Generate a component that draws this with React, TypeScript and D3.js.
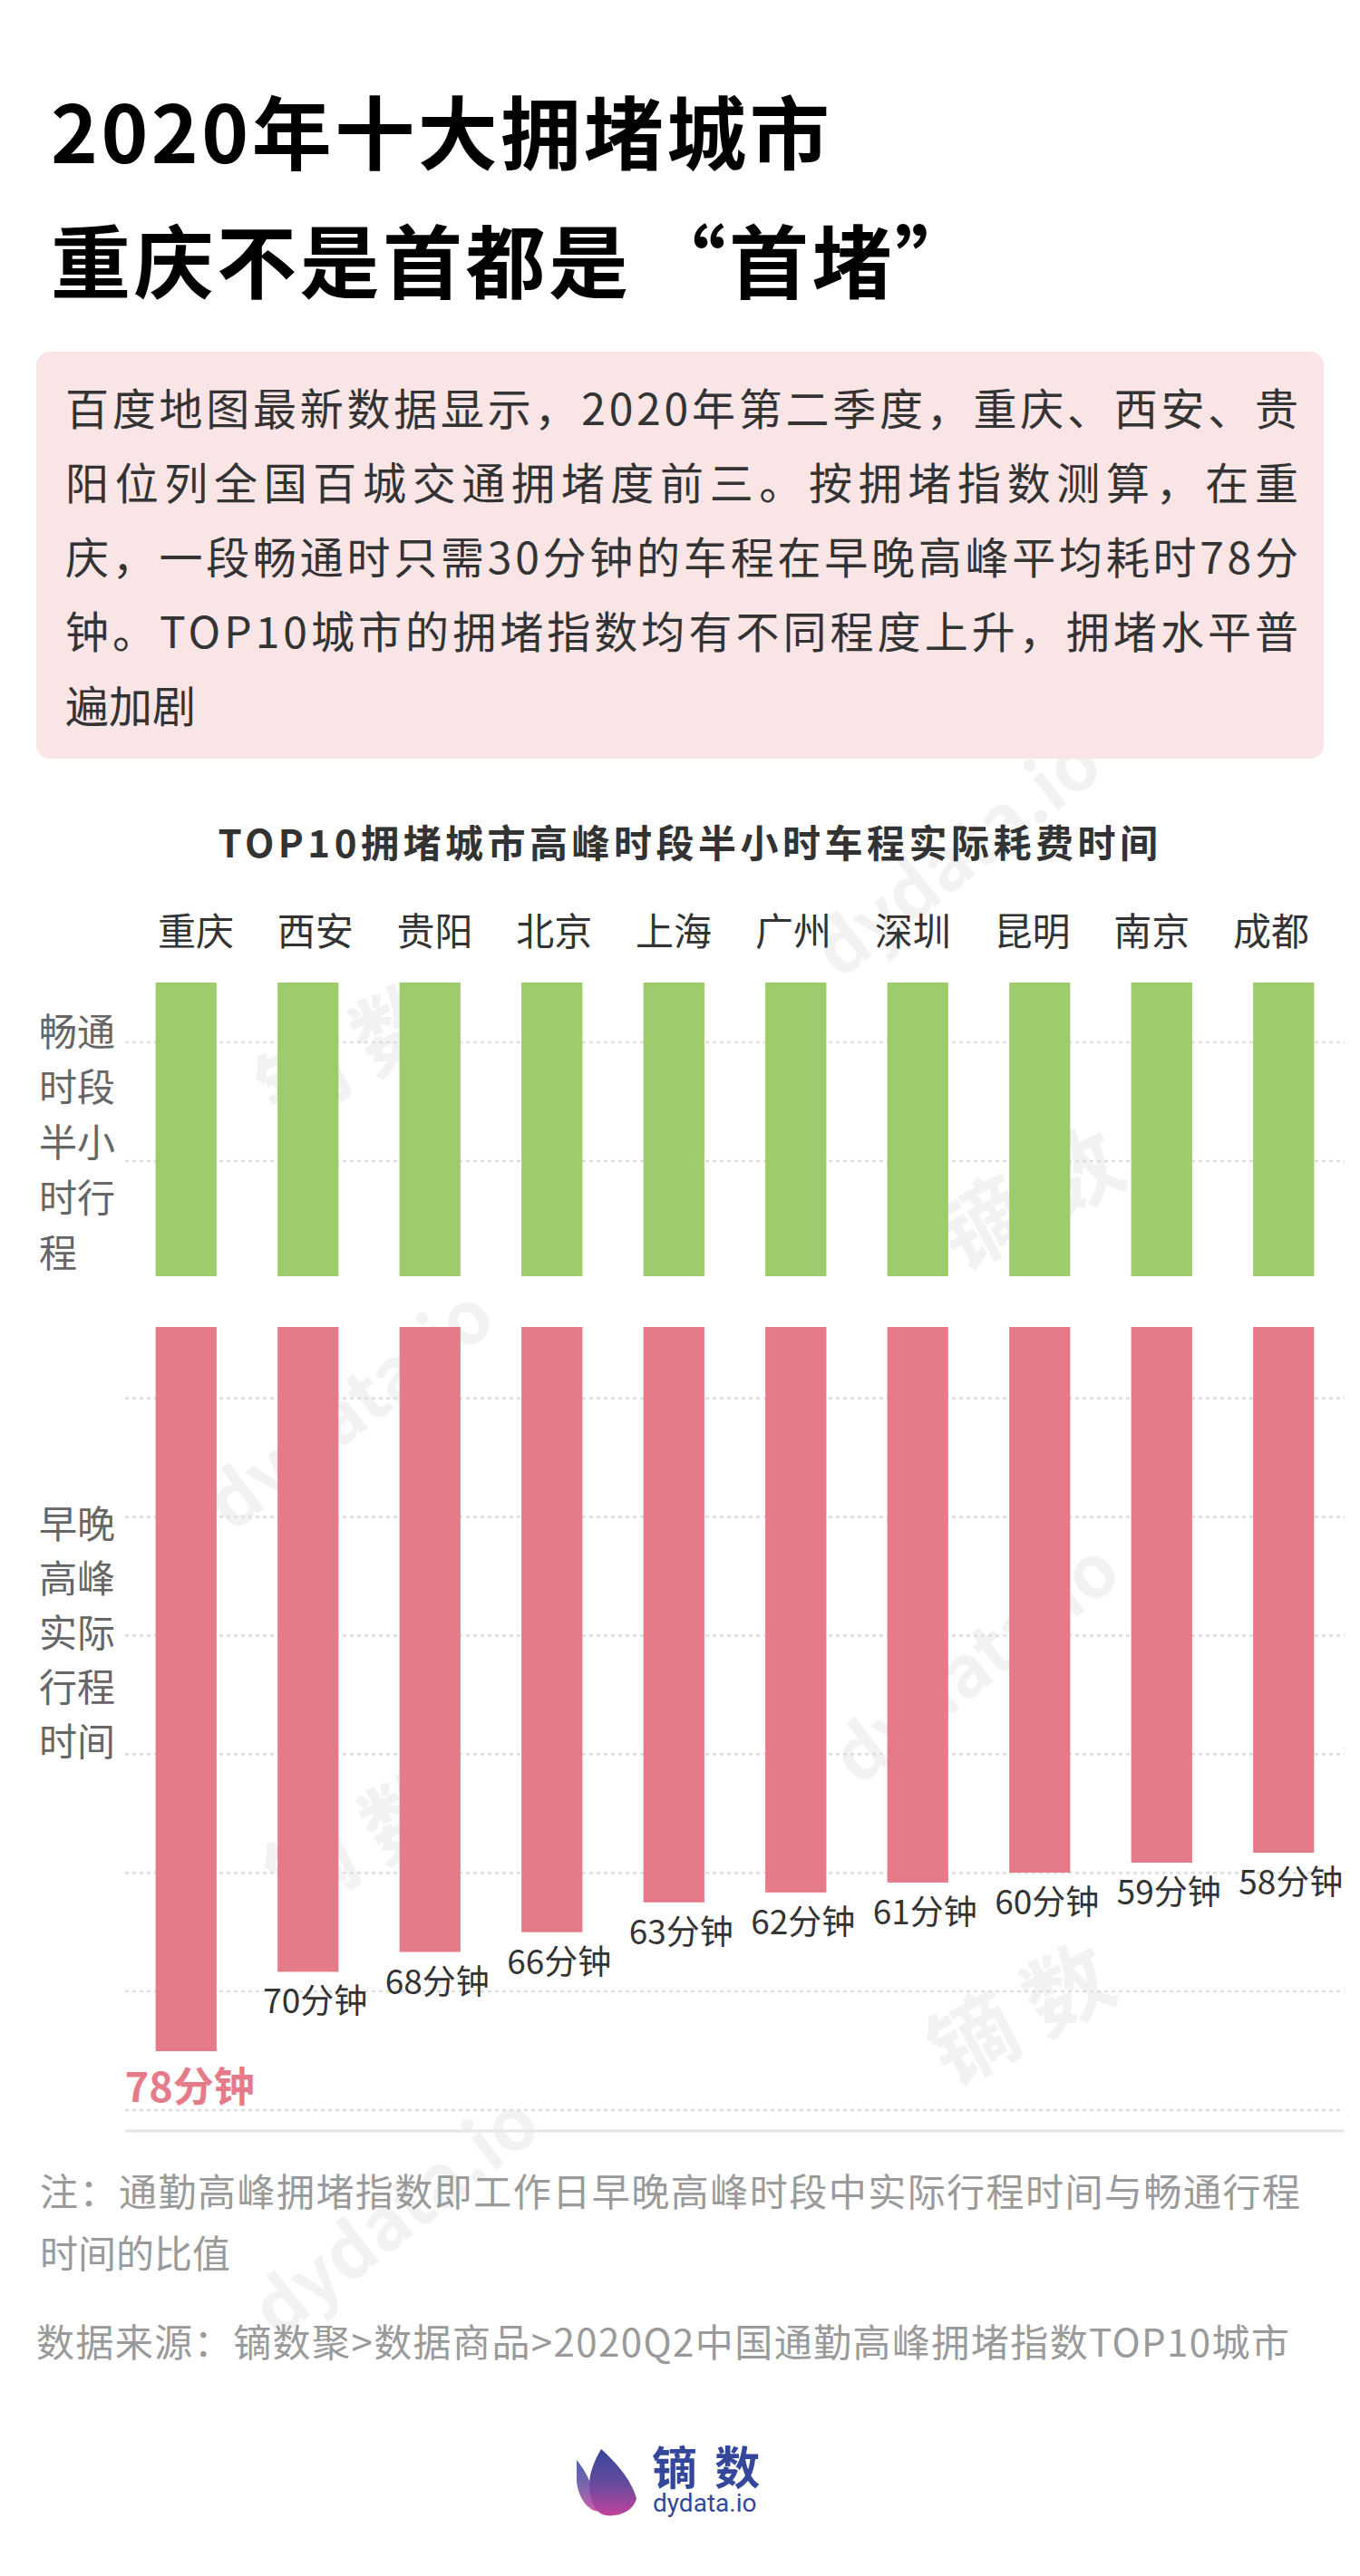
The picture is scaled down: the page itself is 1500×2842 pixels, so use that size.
import React from "react";
import * as d3 from "d3";

const titleLine1 = "2020年十大拥堵城市";
const titleLine2 = ["重庆不是首都是", "“首堵”"];

const introLines = [
  "百度地图最新数据显示，2020年第二季度，重庆、西安、贵",
  "阳位列全国百城交通拥堵度前三。按拥堵指数测算，在重",
  "庆，一段畅通时只需30分钟的车程在早晚高峰平均耗时78分",
  "钟。TOP10城市的拥堵指数均有不同程度上升，拥堵水平普",
  "遍加剧",
];

const chartTitle = "TOP10拥堵城市高峰时段半小时车程实际耗费时间";

const cities = ["重庆", "西安", "贵阳", "北京", "上海", "广州", "深圳", "昆明", "南京", "成都"];
const freeFlowMinutes = [30, 30, 30, 30, 30, 30, 30, 30, 30, 30];
const peakMinutes = [78, 70, 68, 66, 63, 62, 61, 60, 59, 58];

const freeLabel = ["畅通", "时段", "半小", "时行", "程"];
const peakLabel = ["早晚", "高峰", "实际", "行程", "时间"];

const noteLines = [
  "注：通勤高峰拥堵指数即工作日早晚高峰时段中实际行程时间与畅通行程",
  "时间的比值",
];
const sourceText = "数据来源：镝数聚>数据商品>2020Q2中国通勤高峰拥堵指数TOP10城市";

const watermarks = [
  { text: "dydata.io", x: 1060, y: 950, size: 80, angle: -38 },
  { text: "镝 数", x: 390, y: 1170, size: 96, angle: -28 },
  { text: "镝 数", x: 1140, y: 1330, size: 96, angle: -28 },
  { text: "dydata.io", x: 390, y: 1560, size: 80, angle: -38 },
  { text: "dydata.io", x: 1080, y: 1840, size: 80, angle: -38 },
  { text: "镝 数", x: 400, y: 2040, size: 96, angle: -28 },
  { text: "镝 数", x: 1130, y: 2230, size: 96, angle: -28 },
  { text: "dydata.io", x: 440, y: 2450, size: 80, angle: -38 },
];

const FONT = "'Noto Sans CJK SC', 'Noto Sans', sans-serif";
const W = 1500;
const H = 2842;

const App = () => {
  const x = d3
    .scaleBand<string>()
    .domain(cities)
    .range([138, 1483])
    .paddingInner(0.5)
    .paddingOuter(0.25);

  // city names sit a little tighter than the bars
  const xLabel = d3.scalePoint<string>().domain(cities).range([216, 1402]);

  // green block: half hour free-flow trip
  const yFree = d3.scaleLinear().domain([0, 30]).range([1084, 1408]);
  // red block hangs from its top edge
  const yPeak = d3.scaleLinear().domain([5, 78]).range([1464, 2263]);

  // dotted guide rows shared by both blocks (one row is hidden between them)
  const yGrid = d3.scaleLinear().domain([0, 9]).range([1150, 2328]);
  const gridRows = yGrid.ticks(9).filter((t) => t !== 2);

  return (
    <>
      <style>{`body{margin:0;background:#fff}`}</style>
      <svg
        width={W}
        height={H}
        viewBox={`0 0 ${W} ${H}`}
        style={{ display: "block", fontFamily: FONT }}
      >
        <defs>
          <linearGradient id="petal" x1="0" y1="0" x2="0" y2="1">
            <stop offset="0%" stopColor="#34479c" />
            <stop offset="55%" stopColor="#6a4a9e" />
            <stop offset="100%" stopColor="#c2439a" />
          </linearGradient>
        </defs>
        <rect width={W} height={H} fill="#fff" />

        {/* watermarks */}
        {watermarks.map((w, i) => (
          <text
            key={i}
            transform={`translate(${w.x},${w.y}) rotate(${w.angle})`}
            textAnchor="middle"
            dominantBaseline="middle"
            fontSize={w.size}
            fontWeight={700}
            fill="#000"
            fillOpacity={0.05}
          >
            {w.text}
          </text>
        ))}

        {/* headline */}
        <text x={56} y={180} fontSize={88} fontWeight={700} letterSpacing={3.5} fill="#000">
          {titleLine1}
        </text>
        <text x={56} y={322} fontSize={88} fontWeight={700} letterSpacing={3.5} fill="#000">
          {titleLine2[0]}
          <tspan dx={16}>{titleLine2[1]}</tspan>
        </text>

        {/* intro box */}
        <rect x={40} y={388} width={1420} height={449} rx={15} fill="#f9e4e6" />
        {introLines.map((t, i) => (
          <text
            key={i}
            x={72}
            y={469 + i * 82}
            fontSize={48}
            fill="#333"
            {...(i < introLines.length - 1
              ? { textLength: 1360, lengthAdjust: "spacing" }
              : {})}
          >
            {t}
          </text>
        ))}

        {/* chart title */}
        <text
          x={761}
          y={946}
          textAnchor="middle"
          fontSize={42}
          fontWeight={700}
          letterSpacing={4.5}
          fill="#333"
        >
          {chartTitle}
        </text>

        {/* city labels */}
        {cities.map((c) => (
          <text key={c} x={xLabel(c)} y={1043} textAnchor="middle" fontSize={42} fill="#333">
            {c}
          </text>
        ))}

        {/* grid */}
        {gridRows.map((r) => (
          <line
            key={r}
            x1={138}
            x2={1483}
            y1={yGrid(r)}
            y2={yGrid(r)}
            stroke="#dedede"
            strokeWidth={2.5}
            strokeDasharray="4 4"
          />
        ))}
        <line x1={138} x2={1483} y1={2351} y2={2351} stroke="#e6e6e6" strokeWidth={3} />

        {/* side labels */}
        {freeLabel.map((t, i) => (
          <text key={t + i} x={43} y={1154 + i * 61} fontSize={42} fill="#666">
            {t}
          </text>
        ))}
        {peakLabel.map((t, i) => (
          <text key={t + i} x={43} y={1697 + i * 60} fontSize={42} fill="#666">
            {t}
          </text>
        ))}

        {/* free-flow bars */}
        {cities.map((c, i) => (
          <rect
            key={c}
            x={x(c)}
            y={yFree(0)}
            width={x.bandwidth()}
            height={yFree(freeFlowMinutes[i]) - yFree(0)}
            fill="#9ecb6c"
          />
        ))}

        {/* peak bars */}
        {cities.map((c, i) => (
          <rect
            key={c}
            x={x(c)}
            y={yPeak.range()[0]}
            width={x.bandwidth()}
            height={yPeak(peakMinutes[i]) - yPeak.range()[0]}
            fill="#e57b89"
          />
        ))}

        {/* value labels */}
        {cities.map((c, i) => {
          const first = i === 0;
          return (
            <text
              key={c}
              x={x(c)! + x.bandwidth() / 2 + (first ? 4 : 8)}
              y={yPeak(peakMinutes[i]) + (first ? 56 : 46)}
              textAnchor="middle"
              fontSize={first ? 45 : 37}
              fontWeight={first ? 700 : 400}
              fill={first ? "#e57b89" : "#333"}
            >
              {`${peakMinutes[i]}分钟`}
            </text>
          );
        })}

        {/* notes */}
        {noteLines.map((t, i) => (
          <text
            key={i}
            x={44}
            y={2434 + i * 68}
            fontSize={42}
            fill="#9a9a9a"
            {...(i === 0 ? { textLength: 1390, lengthAdjust: "spacing" } : {})}
          >
            {t}
          </text>
        ))}
        <text x={40} y={2600} fontSize={42} fill="#9a9a9a" textLength={1382} lengthAdjust="spacing">
          {sourceText}
        </text>

        {/* logo */}
        <g>
          <path
            d="M636 2714 C646 2726 656 2744 659 2771 C646 2768 638 2754 636 2738 Z"
            fill="url(#petal)"
            opacity={0.85}
          />
          <path
            d="M663 2702 C688 2724 699 2744 702 2757 C698 2771 682 2777 668 2775 C652 2772 648 2748 651 2731 C654 2718 659 2709 663 2702 Z"
            fill="url(#petal)"
          />
          <text x={719} y={2741} fontSize={50} fontWeight={700} fill="#34479c" letterSpacing={4}>
            镝 数
          </text>
          <text x={720} y={2771} fontSize={28} fill="#34479c" fontFamily="Roboto, 'Noto Sans', sans-serif">
            dydata.io
          </text>
        </g>
      </svg>
    </>
  );
};

export default App;
